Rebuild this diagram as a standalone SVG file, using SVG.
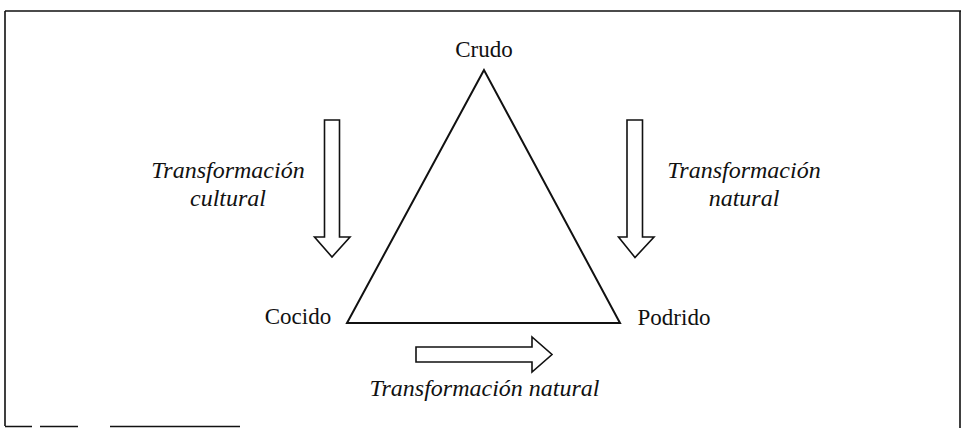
<svg xmlns="http://www.w3.org/2000/svg" width="963" height="428" viewBox="0 0 963 428">
<style>
.lbl{font-family:"Liberation Serif","Times New Roman",serif;font-size:23px;fill:#111;text-anchor:middle}
.it{font-family:"Liberation Serif","Times New Roman",serif;font-size:24px;font-style:italic;fill:#111;text-anchor:middle}
.edge{stroke:#111;stroke-width:2;fill:none;stroke-linejoin:miter}
.blk{stroke:#111;stroke-width:1.6;fill:#fff;stroke-linejoin:miter}
.frame{stroke:#111;stroke-width:1.6;fill:none}
</style>
<rect width="963" height="428" fill="#fff"/>
<g id="frame">
<path class="frame" d="M5 11 H961 M5 11 V426 M960 11 V428"/>
<path class="frame" d="M5 426.5 H32 M40 426.5 H78 M110 426.5 H240"/>
</g>
<g id="connectors">
<path class="edge" d="M484 70 L347 323 L620 323 Z"/>
</g>
<g id="arrows">
<path id="arrow-cultural" class="blk" d="M324.5 120 H339.5 V237 H350 L332 257 L314.5 237 H324.5 Z"/>
<path id="arrow-natural-right" class="blk" d="M627 120 H642.5 V237 H654 L635 257.5 L618.5 237 H627 Z"/>
<path id="arrow-natural-bottom" class="blk" d="M416 347 H532 V337 L552 354.5 L532 372 V362 H416 Z"/>
</g>
<g id="node-crudo"><text class="lbl" x="484" y="57">Crudo</text></g>
<g id="node-cocido"><text class="lbl" x="298" y="324">Cocido</text></g>
<g id="node-podrido"><text class="lbl" x="674" y="325">Podrido</text></g>
<g id="label-cultural">
<text class="it" x="228" y="178">Transformación</text>
<text class="it" x="228" y="206">cultural</text>
</g>
<g id="label-natural-right">
<text class="it" x="744" y="178">Transformación</text>
<text class="it" x="744" y="206">natural</text>
</g>
<g id="label-natural-bottom"><text class="it" x="484.5" y="396">Transformación natural</text></g>
</svg>
